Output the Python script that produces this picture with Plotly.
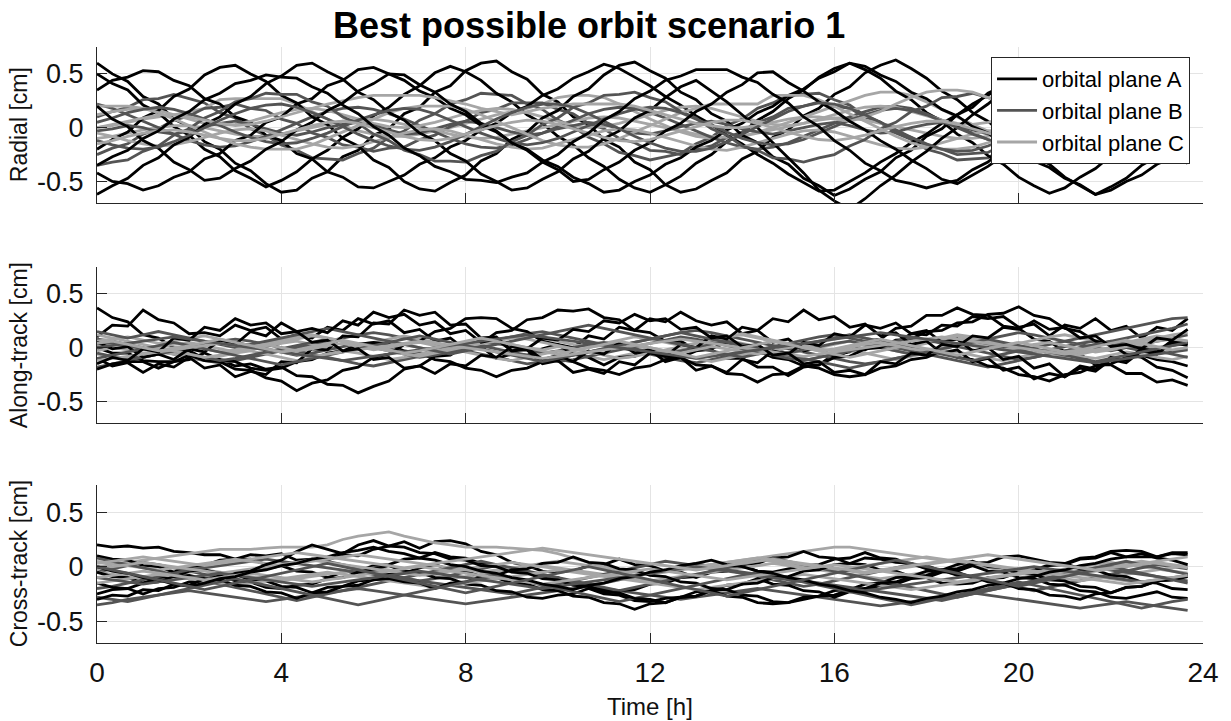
import plotly.graph_objects as go

# ---------------- data (values in 1/100 cm, one sample every 20 min) ----------------
time_h = [k / 3 for k in range(72)]
x_ticks = [0, 4, 8, 12, 16, 20, 24]
y_ticks = [-0.5, 0, 0.5]
y_tick_text = ["-0.5", "0", "0.5"]
panel_titles = ["Radial [cm]", "Along-track [cm]", "Cross-track [cm]"]
plane_names = ["orbital plane A", "orbital plane B", "orbital plane C"]

radial_A = [
    [60,50,43,29,22,8,1,-13,-20,-33,-40,-52,-60,-58,-47,-41,-27,-21,-7,-1,13,19,33,39,53,60,62,52,45,31,24,10,3,-11,-18,-32,-39,-53,-60,-57,-49,-42,-29,-22,-9,-2,11,18,31,38,51,58,63,55,46,34,26,14,6,-6,-14,-26,-34,-46,-54,-62,-55,-47,-35,-27,-15,-7],
    [50,41,35,21,14,1,-7,-20,-27,-40,-47,-55,-49,-41,-29,-21,-9,-1,11,19,31,39,51,57,52,44,32,24,12,4,-8,-16,-28,-36,-48,-56,-60,-53,-45,-33,-25,-13,-5,7,15,27,35,47,55,60,54,46,34,26,14,6,-6,-14,-26,-34,-46,-54,-61,-56,-46,-38,-26,-18,-6,2,14,22],
    [35,44,47,53,52,44,39,27,22,10,5,-7,-12,-24,-29,-41,-46,-55,-56,-50,-44,-34,-28,-18,-12,-2,4,14,20,30,36,46,52,59,55,47,39,29,21,11,3,-7,-15,-25,-33,-43,-51,-59,-58,-50,-42,-32,-24,-14,-6,4,12,22,30,40,48,58,55,47,37,29,19,11,1,-7,-17,-25],
    [-20,-11,-4,9,16,29,36,49,56,58,50,43,30,23,10,3,-10,-17,-30,-37,-50,-57,-59,-51,-44,-31,-24,-11,-4,9,16,29,36,49,58,61,53,46,33,26,13,6,-7,-14,-27,-34,-47,-54,-63,-57,-48,-41,-28,-21,-8,-1,12,19,32,39,52,59,55,47,35,27,15,7,-5,-13,-25,-33],
    [-42,-50,-52,-58,-54,-46,-41,-29,-24,-12,-7,5,10,22,27,39,44,54,56,50,44,34,28,18,12,2,-4,-14,-20,-30,-36,-46,-52,-60,-58,-50,-44,-34,-28,-18,-12,-2,4,14,20,30,36,46,52,60,57,49,43,33,27,17,11,1,-5,-15,-21,-31,-37,-47,-53,-62,-58,-50,-44,-34,-28,-18],
    [-62,-54,-47,-35,-28,-16,-9,3,10,22,29,41,48,58,60,52,45,33,26,14,7,-5,-12,-24,-31,-43,-50,-58,-56,-48,-41,-29,-22,-10,-3,9,16,28,38,44,34,24,12,0,-14,-28,-42,-58,-68,-76,-66,-54,-44,-32,-22,-10,0,12,22,34,44,56,60,52,44,34,26,16,8,-2,-10,-20],
    [20,8,1,-12,-19,-32,-39,-49,-47,-38,-31,-20,-13,-2,5,16,23,34,41,50,49,40,33,22,15,4,-3,-14,-21,-32,-39,-50,-48,-39,-32,-21,-14,-3,4,15,22,33,40,51,52,42,34,24,16,6,-2,-12,-20,-30,-38,-48,-52,-44,-36,-26,-18,-8,0,10,18,28,36,46,52,44,36,26],
    [-35,-27,-21,-10,-3,8,15,26,32,41,44,49,47,46,38,32,21,13,1,-7,-19,-26,-36,-41,-48,-49,-51,-46,-42,-32,-25,-13,-5,7,15,27,34,44,48,54,54,54,47,42,31,23,10,1,-12,-21,-33,-40,-49,-52,-56,-52,-49,-39,-32,-20,-11,2,11,24,32,43,48,54,53,52,44,38],
]
radial_B = [
    [10,15,19,26,27,31,27,23,14,9,-1,-7,-16,-21,-28,-29,-30,-24,-19,-9,-3,7,13,22,26,32,31,30,22,17,7,1,-9,-15,-23,-26,-30,-27,-24,-15,-9,2,8,18,23,30,31,32,26,21,11,5,-5,-11,-20,-24,-30,-29,-28,-20,-15,-5,1,11,16,24,26,30,26,23,14,9],
    [-25,-19,-15,-6,-1,7,11,18,19,22,18,16,8,4,-5,-9,-16,-18,-22,-19,-18,-11,-7,1,6,14,17,23,23,23,17,13,4,-1,-10,-14,-21,-22,-25,-20,-17,-9,-4,5,10,18,20,24,20,18,10,5,-4,-9,-17,-20,-25,-24,-23,-16,-12,-3,2,11,15,22,23,26,21,18,9,4],
    [22,18,12,6,0,-6,-12,-16,-18,-17,-13,-8,-2,4,10,15,18,19,17,13,8,2,-4,-10,-15,-18,-19,-16,-11,-5,1,7,13,17,19,18,14,9,3,-3,-9,-14,-18,-20,-18,-14,-8,-2,4,10,15,19,20,18,13,7,1,-5,-11,-16,-19,-20,-17,-12,-6,0,6,12,16,19,20,17],
    [-3,-1,2,0,-4,-6,-3,1,4,6,3,-1,-5,-7,-4,0,3,5,2,-2,-6,-5,-1,3,6,4,0,-4,-7,-5,-1,2,5,3,-1,-5,-6,-3,1,4,6,3,-1,-4,-6,-3,0,3,5,2,-2,-5,-4,0,3,5,2,-2,-6,-5,-1,2,4,6,3,-1,-4,-6,-3,1,4,2],
    [-35,-32,-30,-22,-17,-7,-1,9,15,24,27,32,31,31,24,20,10,4,-6,-12,-21,-25,-31,-31,-32,-26,-22,-13,-7,3,9,19,23,30,31,33,28,24,15,9,-1,-7,-17,-21,-28,-29,-32,-28,-25,-17,-11,-1,5,15,20,28,29,32,28,25,16,10,0,-6,-16,-21,-28,-29,-32,-27,-24,-16],
    [5,9,14,17,19,17,13,8,2,-4,-9,-13,-15,-14,-10,-5,1,7,12,16,18,17,13,7,1,-5,-10,-14,-16,-14,-10,-4,2,8,13,17,19,18,14,8,2,-4,-10,-14,-16,-15,-11,-5,1,7,12,16,18,16,12,6,0,-6,-11,-15,-16,-14,-9,-3,3,9,14,17,18,15,10,4],
    [-12,-16,-19,-20,-18,-13,-7,0,7,13,18,21,22,19,14,8,1,-6,-12,-17,-20,-21,-18,-13,-6,1,8,14,19,22,22,19,13,6,-1,-8,-14,-19,-22,-22,-19,-13,-6,1,8,15,20,23,22,18,12,5,-2,-9,-15,-20,-22,-21,-17,-11,-4,3,10,16,20,22,20,15,9,2,-5,-11],
]
radial_C = [
    [0,2,5,8,10,12,15,18,26,27,27,27,27,22,15,8,2,-3,-6,-8,-8,-6,-3,0,4,8,12,15,18,22,28,30,30,28,22,15,8,2,-4,-8,-10,-10,-8,-4,0,5,10,15,20,25,30,33,33,30,24,17,10,3,-3,-8,-10,-10,-8,-4,1,6,10,14,17,18,16,12],
    [-10,-8,-5,-2,0,2,2,0,-3,-6,-8,-8,-6,-3,0,3,6,8,8,6,3,0,-3,-6,-9,-10,-9,-6,-3,0,3,6,9,10,9,6,3,0,-3,-6,-8,-9,-8,-5,-2,1,4,7,9,9,7,4,1,-2,-5,-8,-10,-10,-8,-5,-2,1,4,7,9,10,8,5,2,-1,-4,-6],
    [12,15,17,18,16,12,8,4,2,3,6,10,14,17,18,16,12,8,4,1,0,2,5,9,13,16,18,17,14,10,6,2,0,1,4,8,12,16,19,20,18,14,10,6,3,2,4,8,12,16,19,20,19,15,11,7,4,3,5,9,13,17,20,21,19,15,11,7,4,3,5,8],
    [-5,-8,-12,-15,-17,-16,-13,-9,-5,-2,-1,-3,-7,-11,-15,-18,-19,-17,-13,-9,-5,-2,-1,-3,-7,-11,-15,-18,-20,-19,-15,-11,-7,-3,-1,-2,-5,-9,-13,-17,-20,-21,-18,-14,-10,-6,-3,-2,-4,-8,-12,-16,-19,-20,-18,-14,-10,-6,-3,-2,-4,-7,-11,-15,-18,-20,-19,-16,-12,-8,-5,-3],
    [20,20,20,18,14,8,2,-4,-10,-15,-18,-20,-20,-20,-16,-10,-4,2,8,14,18,20,20,20,17,12,6,0,-6,-12,-16,-18,-18,-15,-10,-4,2,8,14,18,22,22,22,22,30,30,30,26,20,13,6,-1,-8,-14,-18,-20,-20,-18,-14,-8,-2,4,10,16,20,22,22,20,16,10,4,-2],
    [0,3,6,9,12,12,10,7,4,2,3,6,10,14,18,22,25,28,30,30,30,30,28,25,22,18,15,12,15,18,20,22,22,22,22,20,16,12,8,4,2,0,0,2,5,8,10,10,8,6,10,15,22,28,33,35,35,33,28,22,16,10,6,4,5,8,12,15,16,14,10,6],
    [-15,-12,-8,-5,-3,-2,-4,-7,-10,-12,-12,-10,-6,-2,2,5,6,4,0,-4,-8,-11,-12,-10,-6,-2,2,5,7,6,3,-1,-5,-9,-12,-13,-11,-7,-3,1,5,7,7,4,0,-4,-8,-11,-12,-10,-7,-3,1,4,6,6,3,-1,-5,-9,-12,-13,-11,-8,-4,0,4,6,6,3,-1,-5],
]

along_A = [
    [37,28,24,12,9,0,-3,-10,-11,-17,-15,-20,-18,-26,-27,-34,-35,-42,-36,-31,-20,-17,-8,-7,2,4,14,16,26,28,35,34,36,28,26,16,14,6,6,-2,-2,-10,-10,-18,-18,-26,-18,-16,-6,-4,6,8,18,20,30,30,37,31,30,20,18,8,6,-4,-6,-16,-16,-24,-24,-32,-30,-35],
    [10,21,20,35,26,23,13,14,11,21,16,19,8,12,9,19,16,27,22,25,14,17,6,9,-2,1,-10,-6,-7,-1,3,0,11,8,19,16,27,24,33,25,21,24,13,16,5,8,-3,0,-9,-3,-2,5,4,13,12,21,20,29,27,29,19,22,11,21,18,27,16,20,9,19,16,27],
    [-20,-15,-13,-13,-19,-13,-11,-5,-11,-13,-19,-21,-19,-13,-11,-5,-3,3,5,3,-3,-5,-11,-13,-19,-21,-27,-21,-19,-13,-11,-13,-19,-21,-25,-19,-17,-11,-9,-3,-1,5,-1,-3,-9,-11,-17,-19,-25,-27,-25,-19,-17,-11,-9,-3,-9,-11,-17,-19,-25,-27,-31,-25,-23,-17,-15,-9,-7,-11,-13,-17],
    [0,-5,-5,-12,-13,-13,-7,-12,-13,-20,-21,-28,-31,-40,-33,-30,-21,-18,-9,-6,3,6,15,18,27,28,27,18,15,6,3,-6,-9,-16,-9,-8,-1,-8,-9,-16,-17,-24,-25,-32,-25,-24,-17,-16,-9,-8,-1,0,7,8,15,16,23,24,31,32,38,30,27,18,15,6,3,-6,-9,-18,-21,-28],
    [-10,-17,-14,-23,-15,-18,-9,-19,-16,-27,-22,-25,-13,-14,-1,-2,11,10,23,22,35,30,33,21,22,9,10,-3,-2,-15,-12,-23,-20,-24,-13,-16,-5,-8,3,0,11,8,19,16,27,24,35,26,29,19,22,11,14,3,6,-5,-2,-13,-10,-21,-18,-29,-24,-27,-17,-20,-9,-12,-1,-4,7,4],
    [5,-1,1,-9,-6,-11,-1,-4,7,3,15,11,23,15,18,14,25,21,33,28,31,21,24,13,16,5,8,-3,0,-11,-7,-13,-3,-6,5,-5,-2,-13,-9,-21,-17,-23,-11,-14,-3,-6,5,2,13,10,21,18,23,13,16,5,8,-3,0,-11,-8,-19,-15,-27,-19,-22,-11,-14,-3,-6,5,2],
    [-15,-9,-12,-1,-4,9,7,19,16,27,21,23,13,15,5,7,-3,-1,-11,-9,-19,-17,-24,-15,-17,-7,-9,1,-1,9,7,17,15,25,23,31,25,27,17,19,9,11,1,3,-7,-5,-15,-13,-23,-21,-25,-13,-15,-5,-7,3,1,11,9,19,17,25,17,19,9,11,1,3,-1,9,7,17],
]
along_B = [
    [8,6,3,0,-3,-6,-9,-12,-14,-12,-9,-6,-3,0,3,6,9,12,14,12,9,6,3,0,-3,-6,-9,-12,-15,-13,-10,-7,-4,-1,2,5,8,11,14,16,14,11,8,5,2,-1,-4,-7,-10,-13,-15,-13,-10,-7,-4,-1,2,5,8,11,14,12,9,6,3,0,-3,0,3,6,9,12],
    [-18,-15,-12,-9,-6,-3,0,3,6,8,6,3,0,-3,-6,-9,-12,-15,-17,-14,-11,-8,-5,-2,1,4,7,10,13,15,12,9,6,3,0,-3,-6,-9,-12,-14,-11,-8,-5,-2,1,4,7,10,12,9,6,3,0,-3,-6,-9,-12,-15,-18,-15,-12,-9,-6,-3,0,3,6,9,12,15,18,22],
    [3,5,2,-1,-4,-2,1,4,7,5,2,-1,-4,-7,-5,-2,1,4,2,-1,-4,-6,-3,0,3,6,4,1,-2,-5,-3,0,3,5,2,-1,-4,-6,-3,0,3,6,3,0,-3,-5,-2,1,4,6,3,0,-3,-6,-4,-1,2,5,3,0,-3,-5,-2,1,4,6,3,0,-3,-1,2,4],
    [-5,-8,-11,-9,-6,-3,-6,-9,-12,-10,-7,-4,-1,2,5,8,6,3,0,-3,-6,-9,-7,-4,-1,2,-1,-4,-7,-10,-13,-11,-8,-5,-2,1,4,7,10,8,5,2,-1,-4,-7,-10,-12,-9,-6,-3,0,3,6,9,7,4,1,-2,-5,-8,-11,-9,-6,-3,0,3,6,3,0,-3,-6,-9],
    [15,12,9,12,15,12,9,6,3,0,3,6,9,12,15,18,15,12,9,6,3,0,-3,-6,-3,0,3,6,9,12,15,18,21,18,15,12,9,6,3,0,-3,-6,-9,-6,-3,0,3,6,9,12,9,6,3,0,-3,-6,-9,-12,-9,-6,-3,0,3,6,9,12,15,18,21,24,27,28],
    [-10,-7,-4,-1,2,5,2,-1,-4,-7,-10,-13,-16,-13,-10,-7,-4,-1,2,5,8,11,8,5,2,-1,-4,-7,-10,-13,-10,-7,-4,-1,2,5,8,11,14,11,8,5,2,-1,-4,-7,-10,-13,-16,-19,-16,-13,-10,-7,-4,-1,2,5,8,5,2,-1,-4,-7,-10,-13,-10,-7,-4,-1,2,5],
    [0,2,4,6,8,10,8,6,4,2,0,-2,-4,-6,-8,-10,-12,-10,-8,-6,-4,-2,0,2,4,6,8,10,12,10,8,6,4,2,0,-2,-4,-6,-8,-10,-8,-6,-4,-2,0,2,4,6,8,10,12,14,12,10,8,6,4,2,0,-2,-4,-6,-8,-10,-12,-14,-12,-10,-8,-6,-4,-2],
]
along_C = [
    [0,3,1,-2,0,3,5,2,-1,-4,-2,1,4,6,3,0,-3,-1,2,5,3,0,-3,-5,-2,1,4,2,-1,-4,-6,-3,0,3,5,2,-1,-4,-2,1,4,7,4,1,-2,-5,-3,0,3,6,3,0,-3,-6,-3,0,3,6,4,1,-2,-5,-2,1,4,7,4,1,-2,0,3,5],
    [6,8,10,7,4,6,9,11,8,5,2,4,7,10,12,9,6,3,5,8,11,8,5,2,0,3,6,9,12,9,6,3,1,4,7,10,8,5,2,4,7,10,13,10,7,4,2,5,8,11,9,6,3,1,4,7,10,8,5,2,4,7,10,12,9,6,3,5,8,11,9,6],
    [-6,-8,-10,-7,-4,-6,-9,-11,-8,-5,-3,-6,-9,-12,-9,-6,-3,-5,-8,-11,-9,-6,-3,-1,-4,-7,-10,-12,-9,-6,-3,-5,-8,-11,-8,-5,-2,-4,-7,-10,-13,-10,-7,-4,-6,-9,-12,-9,-6,-3,-5,-8,-11,-8,-5,-2,-4,-7,-10,-12,-9,-6,-3,-5,-8,-10,-7,-4,-6,-9,-11,-8],
    [12,9,6,3,0,-3,-6,-9,-7,-4,-1,2,5,8,11,9,6,3,0,-3,-6,-8,-5,-2,1,4,7,10,8,5,2,-1,-4,-7,-10,-8,-5,-2,1,4,7,10,12,9,6,3,0,-3,-6,-9,-6,-3,0,3,6,9,12,10,7,4,1,-2,-5,-8,-6,-3,0,3,6,9,12,14],
    [-3,0,-2,-5,-3,0,2,-1,-4,-2,1,3,0,-3,-1,2,4,1,-2,0,3,5,2,-1,1,4,6,3,0,-2,1,-1,-4,-2,1,3,0,-3,-5,-2,1,-1,-4,-6,-3,0,2,-1,-3,0,3,5,2,-1,-3,0,2,4,1,-2,0,3,5,2,-1,-4,-2,1,3,0,-3,-1],
    [-12,-10,-8,-6,-4,-2,0,2,4,2,0,-2,-4,-6,-8,-6,-4,-2,0,2,4,6,4,2,0,-2,-4,-6,-8,-10,-8,-6,-4,-2,0,2,4,6,8,6,4,2,0,-2,-4,-6,-8,-6,-4,-2,0,2,4,6,8,10,8,6,4,2,0,-2,-4,-6,-4,-2,0,2,4,6,8,6],
    [4,6,3,0,-3,-1,2,5,8,5,2,-1,-4,-2,1,4,7,4,1,-2,-5,-3,0,3,6,9,6,3,0,-3,-6,-3,0,3,6,3,0,-3,-6,-9,-6,-3,0,3,6,3,0,-3,-1,2,5,8,5,2,-1,-4,-7,-4,-1,2,5,2,-1,-4,-2,1,4,7,4,1,-2,0],
]

cross_A = [
    [20,18,19,17,18,14,13,11,11,7,11,10,12,6,7,6,11,10,16,19,23,17,23,24,21,14,11,4,1,-4,-5,-4,1,2,7,2,1,-4,-5,-10,-5,-4,1,-4,-5,-2,1,2,7,8,13,8,7,2,1,-4,-5,-10,-11,-10,-5,-4,1,2,7,8,13,9,9,9,12,11],
    [10,7,6,1,0,-5,0,1,6,7,7,2,1,-4,-5,-10,-5,-4,1,2,7,8,13,9,8,3,2,-3,-4,-9,-10,-15,-16,-21,-22,-21,-16,-15,-10,-9,-4,-3,2,3,8,9,14,9,8,3,2,-3,-4,-9,-10,-15,-16,-15,-10,-9,-4,-3,2,3,8,9,14,15,14,9,13,13],
    [-5,-9,-10,-15,-10,-9,-4,-3,-6,-7,-12,-13,-18,-19,-24,-19,-18,-13,-12,-7,-6,-1,2,-3,-4,-9,-10,-15,-16,-21,-22,-27,-28,-33,-34,-39,-34,-33,-28,-27,-22,-27,-28,-33,-34,-33,-28,-27,-22,-21,-16,-15,-10,-9,-4,-3,2,5,0,-1,-6,-7,-12,-13,-18,-19,-24,-19,-18,-13,-12,-7],
    [-15,-19,-20,-25,-20,-19,-14,-13,-8,-13,-14,-19,-20,-17,-16,-11,-10,-5,-2,1,-4,-5,-10,-11,-16,-17,-22,-23,-28,-29,-26,-25,-20,-25,-26,-31,-32,-29,-28,-23,-22,-17,-16,-11,-16,-17,-22,-23,-28,-23,-22,-17,-16,-11,-10,-5,-4,1,-4,-5,-10,-11,-16,-17,-22,-23,-28,-29,-26,-23,-28,-29],
    [-25,-21,-20,-15,-14,-9,-8,-11,-12,-17,-18,-23,-24,-29,-24,-23,-18,-17,-12,-11,-14,-15,-20,-15,-14,-9,-8,-3,-2,3,4,9,4,3,-2,-3,-8,-9,-14,-15,-20,-21,-26,-27,-32,-33,-30,-27,-26,-21,-20,-15,-14,-9,-8,-3,-2,3,4,9,10,7,4,3,-2,-3,-8,-9,-14,-15,-20,-21],
    [-30,-26,-27,-21,-22,-16,-17,-11,-12,-6,-4,2,6,14,20,16,12,20,24,19,18,13,12,7,6,1,0,-5,-6,-11,-12,-17,-18,-23,-24,-29,-30,-33,-28,-27,-22,-21,-16,-15,-10,-9,-4,-3,2,3,8,7,4,3,-2,-3,-8,-9,-14,-15,-20,-21,-26,-27,-30,-25,-24,-19,-18,-13,-12,-9],
    [0,-4,-6,-10,-12,-16,-18,-15,-11,-9,-5,-3,1,3,7,9,13,15,18,14,12,8,6,2,0,-4,-6,-10,-12,-16,-18,-21,-17,-15,-11,-9,-5,-3,1,3,6,2,0,-4,-6,-10,-12,-16,-18,-22,-24,-28,-30,-33,-29,-27,-23,-21,-17,-15,-11,-9,-5,-3,1,3,7,9,12,8,6,2],
]
cross_B = [
    [-35,-33,-30,-28,-26,-24,-22,-24,-26,-28,-30,-32,-30,-28,-26,-24,-22,-20,-22,-24,-26,-28,-30,-32,-34,-32,-30,-28,-26,-24,-22,-20,-18,-20,-22,-24,-26,-28,-30,-28,-26,-24,-22,-20,-22,-24,-26,-28,-30,-32,-34,-36,-34,-32,-30,-28,-26,-24,-26,-28,-30,-32,-34,-36,-38,-36,-34,-32,-34,-36,-38,-40],
    [-5,-2,1,4,2,-1,-4,-7,-10,-8,-5,-2,1,4,7,5,2,-1,-4,-7,-10,-13,-11,-8,-5,-2,1,-2,-5,-8,-11,-14,-17,-15,-12,-9,-6,-3,0,3,0,-3,-6,-9,-12,-15,-18,-16,-13,-10,-7,-4,-1,2,-1,-4,-7,-10,-13,-16,-19,-22,-19,-16,-13,-10,-7,-4,-1,2,0,-2],
    [-20,-18,-15,-12,-9,-6,-3,-1,1,3,5,7,5,3,1,-1,-3,-5,-7,-9,-11,-13,-15,-17,-19,-21,-23,-25,-22,-19,-16,-13,-10,-7,-4,-1,2,5,3,1,-1,-3,-5,-7,-9,-11,-13,-15,-17,-19,-21,-23,-25,-27,-29,-31,-28,-25,-22,-19,-16,-13,-10,-7,-4,-1,-3,-5,-7,-9,-11,-13],
    [8,5,2,-1,-4,-7,-10,-13,-16,-19,-22,-25,-28,-31,-28,-25,-22,-19,-16,-13,-10,-7,-4,-1,2,5,2,-1,-4,-7,-10,-13,-16,-19,-22,-19,-16,-13,-10,-7,-4,-1,2,5,8,5,2,-1,-4,-7,-10,-13,-16,-19,-22,-25,-28,-25,-22,-19,-16,-13,-10,-7,-4,-1,2,5,2,-1,-4,-7],
    [-28,-30,-32,-29,-26,-23,-20,-17,-14,-11,-14,-17,-20,-23,-26,-29,-32,-35,-32,-29,-26,-23,-20,-17,-14,-11,-8,-11,-14,-17,-20,-23,-26,-29,-32,-29,-26,-23,-20,-17,-14,-11,-8,-5,-8,-11,-14,-17,-20,-23,-26,-29,-32,-35,-32,-29,-26,-23,-20,-17,-14,-17,-20,-23,-26,-29,-32,-35,-38,-35,-32,-30],
    [-10,-12,-14,-16,-14,-12,-10,-8,-6,-8,-10,-12,-14,-16,-18,-16,-14,-12,-10,-8,-6,-4,-6,-8,-10,-12,-14,-16,-18,-20,-18,-16,-14,-12,-10,-8,-6,-4,-2,0,-2,-4,-6,-8,-10,-12,-14,-16,-18,-20,-22,-20,-18,-16,-14,-12,-10,-8,-6,-4,-2,0,-2,-4,-6,-8,-10,-12,-14,-12,-10,-8],
    [0,-3,-6,-9,-12,-15,-18,-21,-18,-15,-12,-9,-6,-3,0,3,0,-3,-6,-9,-12,-15,-18,-21,-24,-21,-18,-15,-12,-9,-6,-3,0,-3,-6,-9,-12,-15,-18,-21,-24,-27,-24,-21,-18,-15,-12,-9,-6,-3,0,3,6,3,0,-3,-6,-9,-12,-15,-18,-15,-12,-9,-6,-3,0,-3,-6,-9,-12,-15],
]
cross_C = [
    [0,2,4,6,8,10,12,14,16,16,16,17,18,18,18,20,25,28,30,32,28,25,22,20,18,18,18,17,16,15,12,8,4,0,-4,-8,-6,-4,-2,0,2,4,6,8,10,12,14,16,18,18,16,14,12,10,8,6,4,2,0,-2,-4,-6,-4,-2,0,2,4,2,0,-2,-4,-6],
    [-5,-7,-9,-11,-9,-7,-5,-3,-5,-7,-9,-11,-13,-11,-9,-7,-5,-3,-1,-3,-5,-7,-9,-11,-9,-7,-5,-3,-1,1,-1,-3,-5,-7,-9,-11,-13,-11,-9,-7,-5,-3,-1,1,3,1,-1,-3,-5,-7,-9,-11,-9,-7,-5,-3,-1,1,-1,-3,-5,-7,-9,-11,-13,-11,-9,-7,-5,-3,-1,1],
    [5,3,1,-1,-3,-1,1,3,5,7,5,3,1,3,5,7,9,11,9,7,5,3,1,-1,-3,-5,-3,-1,1,3,5,3,1,-1,-3,-5,-7,-5,-3,-1,1,3,5,7,5,3,1,-1,-3,-1,1,3,5,7,9,7,5,3,1,-1,-3,-5,-7,-5,-3,-1,1,3,5,3,1,-1],
    [-15,-13,-11,-9,-7,-9,-11,-13,-15,-17,-15,-13,-11,-9,-7,-5,-7,-9,-11,-13,-15,-17,-19,-17,-15,-13,-11,-9,-7,-5,-3,-5,-7,-9,-11,-13,-15,-17,-19,-21,-19,-17,-15,-13,-11,-9,-7,-9,-11,-13,-15,-17,-19,-21,-19,-17,-15,-13,-11,-9,-7,-5,-3,-5,-7,-9,-11,-13,-15,-13,-11,-9],
    [-2,0,2,4,2,0,-2,-4,-6,-4,-2,0,2,4,6,4,2,0,-2,-4,-6,-8,-6,-4,-2,0,2,4,2,0,-2,-4,-6,-8,-10,-8,-6,-4,-2,0,2,4,6,8,6,4,2,0,-2,-4,-6,-4,-2,0,2,4,6,4,2,0,-2,-4,-6,-8,-6,-4,-2,0,2,4,2,0],
    [-10,-8,-6,-4,-6,-8,-10,-12,-10,-8,-6,-8,-10,-12,-14,-12,-10,-8,-6,-4,-2,0,-2,-4,-6,-8,-10,-12,-14,-16,-14,-12,-10,-8,-6,-4,-2,-4,-6,-8,-10,-12,-10,-8,-6,-4,-2,0,2,0,-2,-4,-6,-8,-10,-12,-14,-12,-10,-8,-6,-4,-6,-8,-10,-12,-14,-16,-14,-12,-10,-8],
    [3,5,7,9,7,5,3,1,3,5,7,9,11,13,11,9,7,5,3,1,-1,1,3,5,7,9,11,13,15,17,15,13,11,9,7,5,3,1,-1,-3,-1,1,3,5,7,5,3,1,-1,-3,-5,-3,-1,1,3,5,7,9,11,9,7,5,3,1,-1,-3,-1,1,3,5,7,9],
]

# ---------------- styling ----------------
plane_colors = ["#000000", "#545454", "#a6a6a6"]
axis_color = "#262626"
grid_color = "#e4e4e4"
font_family = "Liberation Sans, Arial, sans-serif"

panels = [
    (radial_A, radial_B, radial_C),
    (along_A, along_B, along_C),
    (cross_A, cross_B, cross_C),
]

# pixel layout
W, H = 1231, 721
L, R, T, B = 97, 1206, 47, 643
pw, ph = R - L, B - T
panel_px = [(47, 203), (267, 423), (485, 643)]


def ypaper(py):
    return (B - py) / ph


def xpaper(px):
    return (px - L) / pw


fig = go.Figure()
legend_done = [False, False, False]
for p, groups in enumerate(panels):
    xa = "x" if p == 0 else f"x{p+1}"
    ya = "y" if p == 0 else f"y{p+1}"
    n = max(len(g) for g in groups)
    for i in range(n):
        for g, grp in enumerate(groups):
            if i >= len(grp):
                continue
            vals = [v / 100 for v in grp[i]]
            show = p == 0 and not legend_done[g]
            if show:
                legend_done[g] = True
            fig.add_trace(go.Scatter(
                x=time_h[:len(vals)], y=vals, mode="lines",
                line=dict(color=plane_colors[g], width=2.8),
                name=plane_names[g], showlegend=show,
                legendrank=g + 1,
                xaxis=xa, yaxis=ya, hoverinfo="skip",
            ))

layout = dict(
    width=W, height=H,
    margin=dict(l=L, r=W - R, t=T, b=H - B, pad=0),
    paper_bgcolor="white", plot_bgcolor="white",
    font=dict(family=font_family, color=axis_color),
    legend=dict(
        x=xpaper(1193), y=ypaper(57), xanchor="right", yanchor="top",
        bgcolor="white", bordercolor=axis_color, borderwidth=1,
        font=dict(size=22, family=font_family, color="#000000"),
        tracegroupgap=0, itemwidth=40,
    ),
    showlegend=True,
)
for p in range(3):
    xk = "xaxis" if p == 0 else f"xaxis{p+1}"
    yk = "yaxis" if p == 0 else f"yaxis{p+1}"
    top, bot = panel_px[p]
    layout[xk] = dict(
        domain=[0, 1], range=[0, 24], tickvals=x_ticks,
        anchor="y" if p == 0 else f"y{p+1}",
        showticklabels=(p == 2), ticks="inside", ticklen=10, tickwidth=1.2,
        tickcolor=axis_color, showline=True, linecolor=axis_color, linewidth=1.3,
        showgrid=True, gridcolor=grid_color, gridwidth=1, zeroline=False,
        tickfont=dict(size=28, family=font_family, color="#111111"),
        ticklabelstandoff=4,
        matches=None if p == 0 else "x",
    )
    layout[yk] = dict(
        domain=[ypaper(bot), ypaper(top)], range=[-0.7, 0.75],
        anchor="x" if p == 0 else f"x{p+1}",
        tickvals=y_ticks, ticktext=y_tick_text,
        ticks="inside", ticklen=10, tickwidth=1.2, tickcolor=axis_color,
        showline=True, linecolor=axis_color, linewidth=1.3,
        showgrid=True, gridcolor=grid_color, gridwidth=1, zeroline=False,
        tickfont=dict(size=27, family=font_family, color="#111111"),
        ticklabelstandoff=7,
    )
fig.update_layout(**layout)

annotations = [
    dict(text="<b>Best possible orbit scenario 1</b>", x=xpaper(590), y=ypaper(25),
         xref="paper", yref="paper", xanchor="center", yanchor="middle",
         showarrow=False, font=dict(size=36, family=font_family, color="#000000")),
    dict(text="Time [h]", x=0.5, y=ypaper(706), xref="paper", yref="paper",
         xanchor="center", yanchor="middle", showarrow=False,
         font=dict(size=24, family=font_family, color="#111111")),
]
for p, title in enumerate(panel_titles):
    top, bot = panel_px[p]
    annotations.append(dict(
        text=title, x=xpaper(19), y=ypaper((top + bot) / 2), xref="paper", yref="paper",
        xanchor="center", yanchor="middle", textangle=-90, showarrow=False,
        font=dict(size=23, family=font_family, color="#111111")))
fig.update_layout(annotations=annotations)

fig.write_html("out.html")
